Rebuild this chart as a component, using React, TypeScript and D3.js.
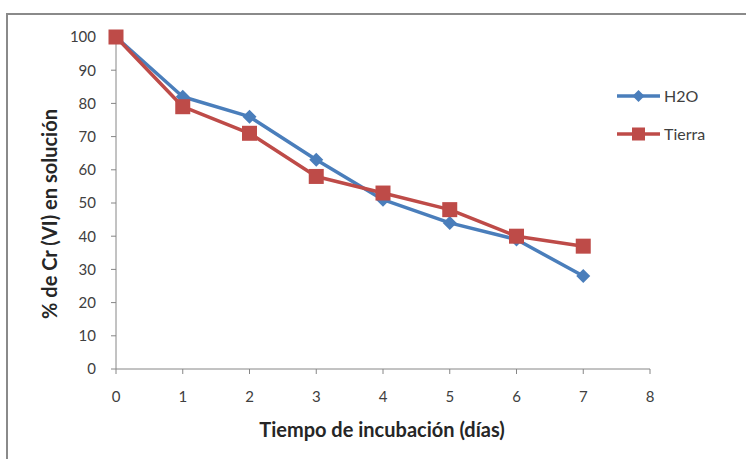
import React from "react";
import * as d3 from "d3";

const days = [0, 1, 2, 3, 4, 5, 6, 7];
const h2o = [100, 82, 76, 63, 51, 44, 39, 28];
const tierra = [100, 79, 71, 58, 53, 48, 40, 37];
const xTicks = [0, 1, 2, 3, 4, 5, 6, 7, 8];
const yTicks = [0, 10, 20, 30, 40, 50, 60, 70, 80, 90, 100];
const seriesNames = ["H2O", "Tierra"];

const W = 746, H = 459;
const FONT = "Lato, 'Open Sans', 'Liberation Sans', sans-serif";

export default function App() {
  const x = d3.scaleLinear().domain([0, 8]).range([116, 650]);
  const y = d3.scaleLinear().domain([0, 100]).range([369, 37]);
  const line = d3.line<number>().x((_, i) => x(days[i])).y((d) => y(d));
  const blue = "#4A7EBB";
  const red = "#BE4B48";
  const axisColor = "#868686";

  const diamond = (cx: number, cy: number, r: number) =>
    `M${cx},${cy - r}L${cx + r},${cy}L${cx},${cy + r}L${cx - r},${cy}Z`;

  return (
    <svg width={W} height={H} style={{ position: "absolute", left: 0, top: 0, background: "#fff" }}>
      <rect x={7} y={14} width={760} height={460} fill="#fff" stroke="#8a8a8a" strokeWidth={2} />
      {/* axes */}
      <line x1={x(0)} x2={x(0)} y1={y(100)} y2={y(0)} stroke={axisColor} />
      <line x1={x(0)} x2={x(8)} y1={y(0)} y2={y(0)} stroke={axisColor} />
      {yTicks.map((t) => (
        <g key={"y" + t}>
          <line x1={x(0) - 5} x2={x(0)} y1={y(t)} y2={y(t)} stroke={axisColor} />
          <text x={x(0) - 20} y={y(t)} dy="0.36em" textAnchor="end" fontSize={15} fontFamily={FONT} fill="#404040">
            {t}
          </text>
        </g>
      ))}
      {xTicks.map((t) => (
        <g key={"x" + t}>
          <line x1={x(t)} x2={x(t)} y1={y(0)} y2={y(0) + 5} stroke={axisColor} />
          <text x={x(t)} y={402} textAnchor="middle" fontSize={15} fontFamily={FONT} fill="#404040">
            {t}
          </text>
        </g>
      ))}
      <text x={382} y={437} textAnchor="middle" fontSize={20} fontWeight="bold" fontFamily={FONT} fill="#262626">
        Tiempo de incubación (días)
      </text>
      <text
        transform={`translate(50,214) rotate(-90)`}
        textAnchor="middle"
        dy="0.35em"
        fontSize={20}
        fontWeight="bold"
        fontFamily={FONT}
        fill="#262626"
      >
        % de Cr (VI) en solución
      </text>
      {/* series */}
      <path d={line(h2o) || ""} fill="none" stroke={blue} strokeWidth={3.5} strokeLinejoin="round" />
      {h2o.map((v, i) => (
        <path key={"d" + i} d={diamond(x(days[i]), y(v), 7)} fill={blue} />
      ))}
      <path d={line(tierra) || ""} fill="none" stroke={red} strokeWidth={3.5} strokeLinejoin="round" />
      {tierra.map((v, i) => (
        <rect key={"s" + i} x={x(days[i]) - 7.5} y={y(v) - 7.5} width={15} height={15} fill={red} />
      ))}
      {/* legend */}
      <g>
        <line x1={617} x2={660} y1={96} y2={96} stroke={blue} strokeWidth={3.5} />
        <path d={diamond(638.5, 96, 6)} fill={blue} />
        <text x={664} y={96} dy="0.36em" fontSize={16} fontFamily={FONT} fill="#404040">
          {seriesNames[0]}
        </text>
        <line x1={617} x2={660} y1={134} y2={134} stroke={red} strokeWidth={3.5} />
        <rect x={632} y={127.5} width={13} height={13} fill={red} />
        <text x={664} y={134} dy="0.36em" fontSize={16} fontFamily={FONT} fill="#404040">
          {seriesNames[1]}
        </text>
      </g>
    </svg>
  );
}
